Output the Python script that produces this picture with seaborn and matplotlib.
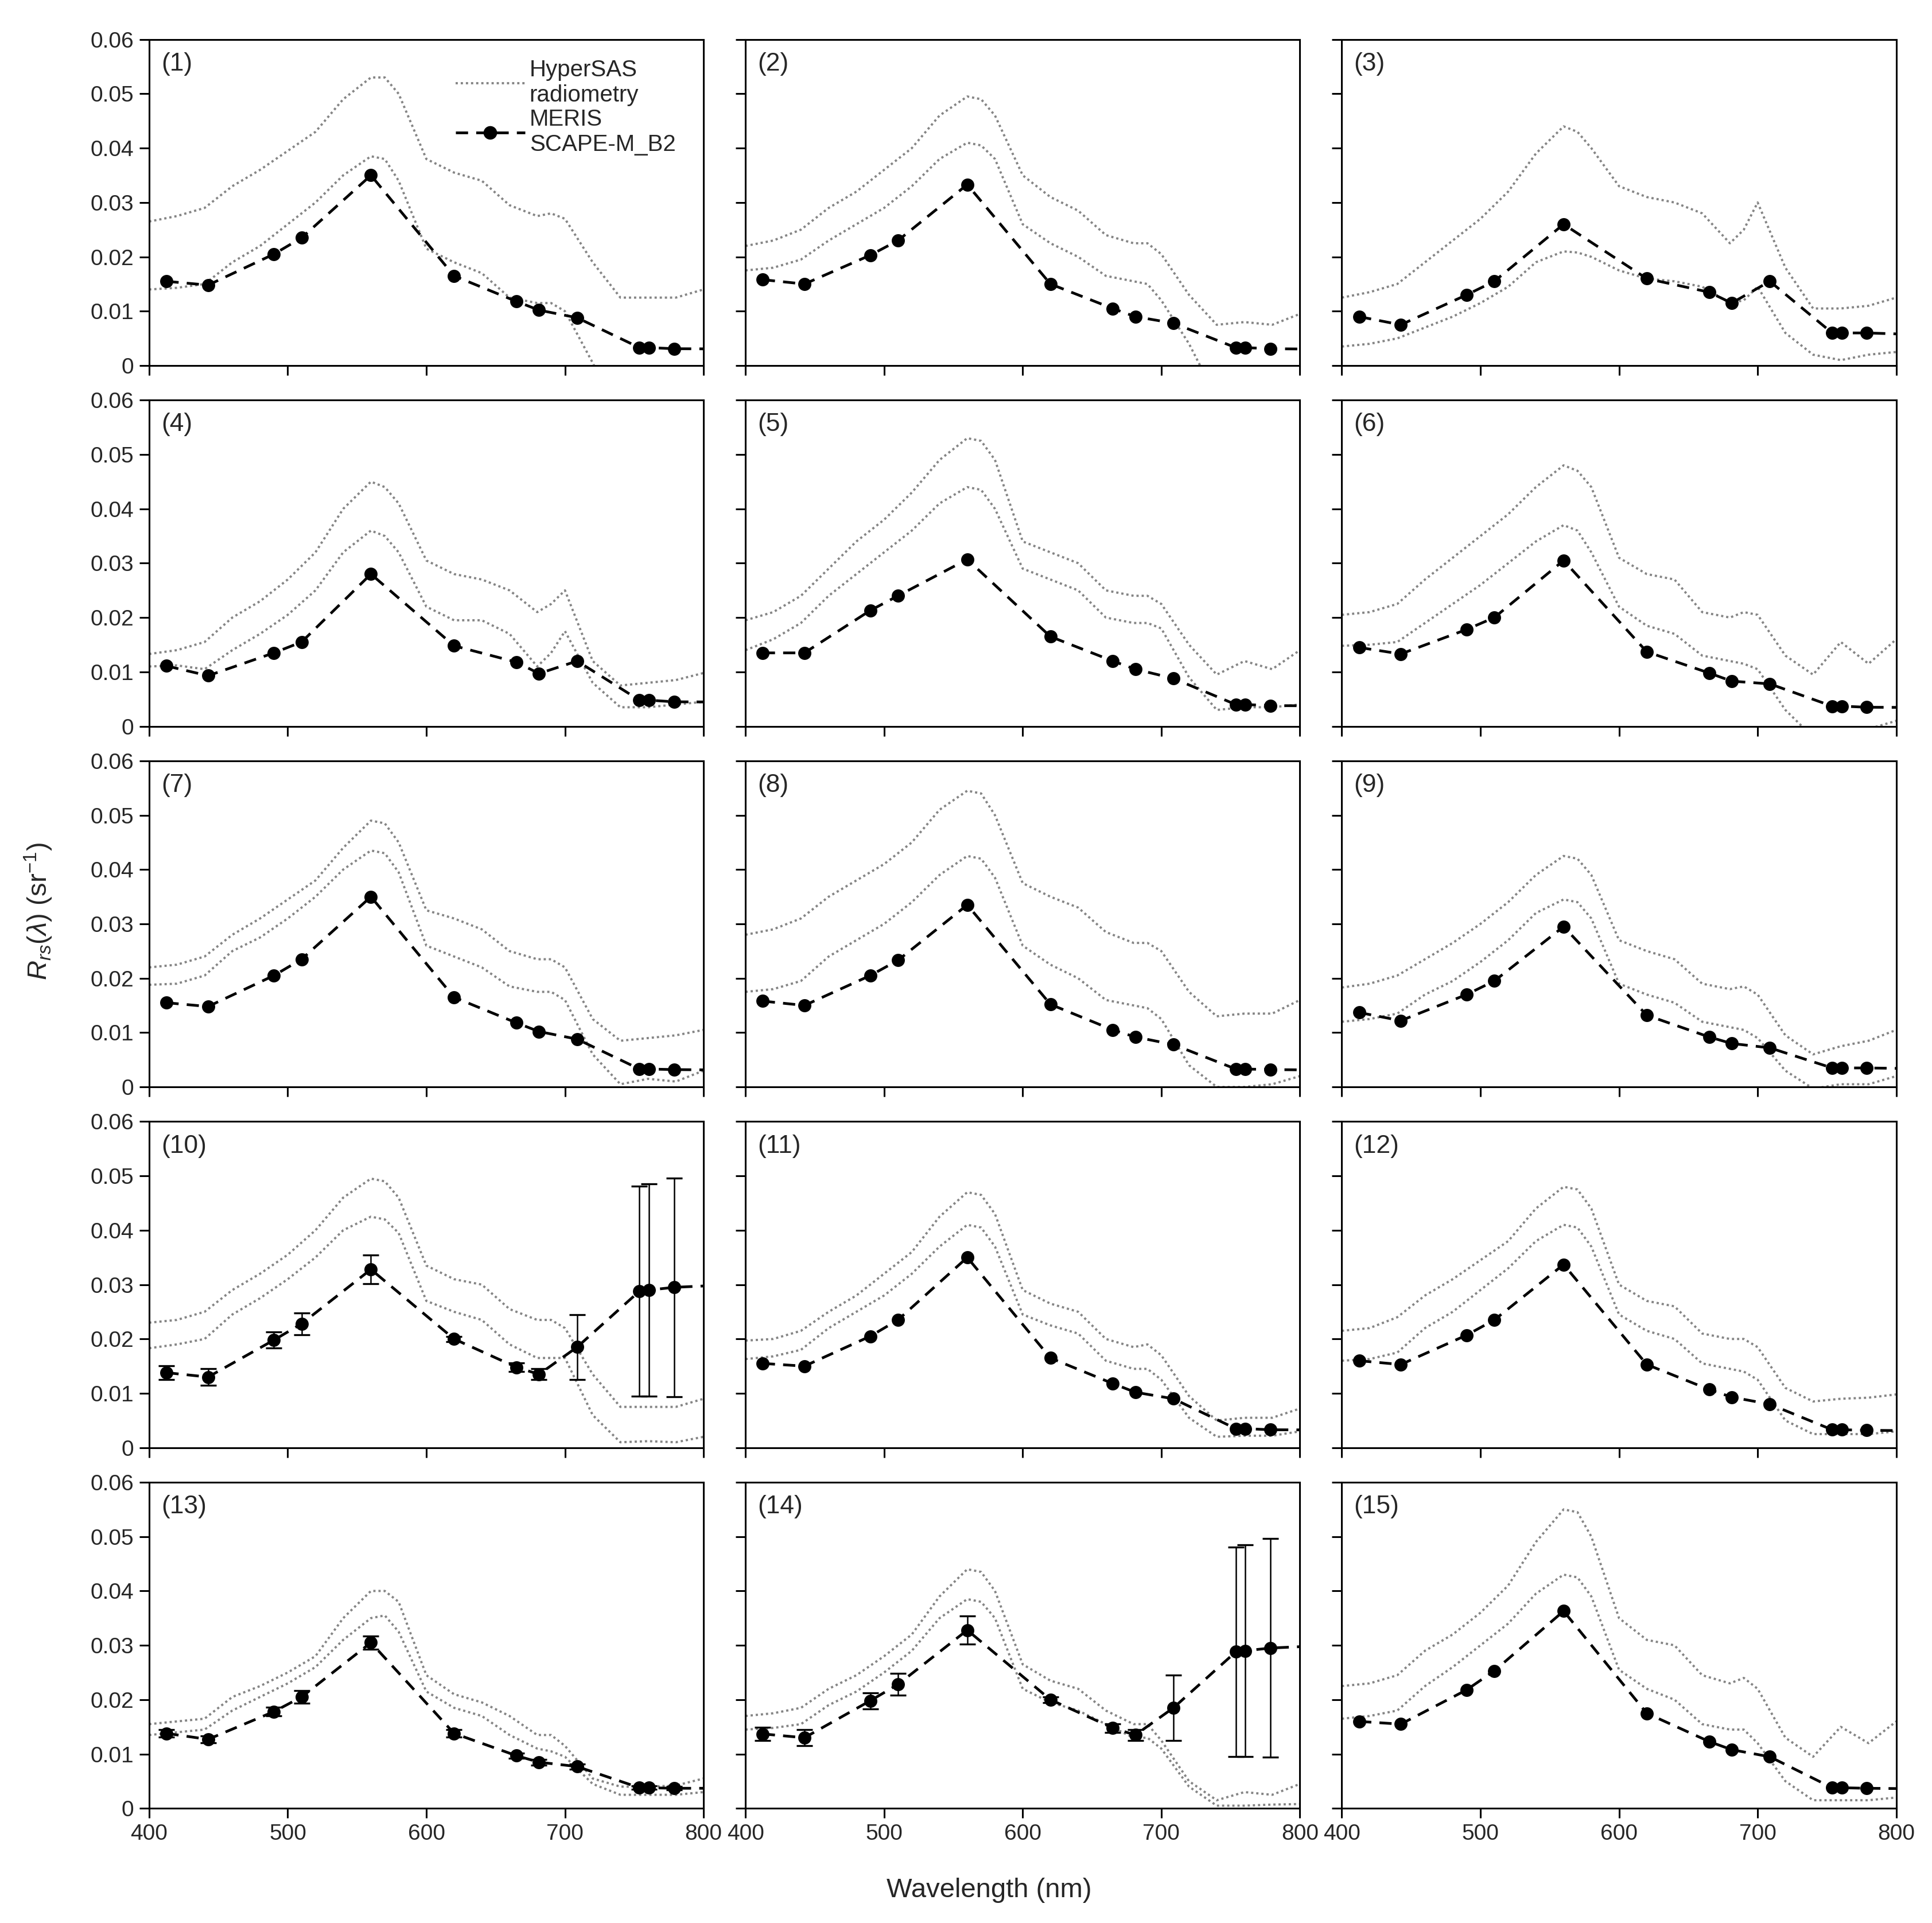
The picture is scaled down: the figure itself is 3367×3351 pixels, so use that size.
import numpy as np
import pandas as pd
import matplotlib
matplotlib.use("Agg")
import matplotlib.pyplot as plt
from matplotlib.lines import Line2D
from matplotlib.ticker import FuncFormatter
import seaborn as sns

# MERIS band centres (nm); last band (865) lies beyond the plotted range
wl_meris = [412.5, 442.5, 490, 510, 560, 620, 665, 681.25, 708.75, 753.75, 760.625, 778.75, 865]

# HyperSAS sampling grid (nm)
wl_hs = [400, 420, 440, 460, 480, 500, 520, 540, 560, 570, 580, 600, 620,
         640, 660, 680, 690, 700, 720, 740, 760, 780, 800]

panel_labels = ["(%d)" % i for i in range(1, 16)]

# MERIS SCAPE-M_B2 Rrs per panel
meris_rrs = [
    [.0155, .0148, .0205, .0235, .0350, .0165, .0118, .0102, .0088, .0033, .0033, .0031, .0030],
    [.0158, .0150, .0203, .0230, .0333, .0150, .0105, .0090, .0078, .0033, .0033, .0031, .0029],
    [.0090, .0075, .0130, .0155, .0260, .0160, .0135, .0115, .0155, .0060, .0060, .0060, .0053],
    [.0111, .0093, .0135, .0155, .0280, .0148, .0118, .0097, .0120, .0048, .0048, .0045, .0044],
    [.0135, .0135, .0213, .0240, .0307, .0165, .0120, .0105, .0088, .0040, .0040, .0038, .0037],
    [.0145, .0133, .0178, .0200, .0305, .0137, .0098, .0083, .0078, .0037, .0037, .0035, .0034],
    [.0155, .0148, .0205, .0235, .0350, .0165, .0118, .0102, .0088, .0033, .0033, .0032, .0030],
    [.0158, .0150, .0205, .0233, .0335, .0152, .0105, .0092, .0078, .0033, .0033, .0032, .0030],
    [.0137, .0122, .0170, .0195, .0295, .0132, .0092, .0080, .0072, .0035, .0035, .0035, .0032],
    [.0138, .0130, .0198, .0228, .0328, .0200, .0148, .0135, .0185, .0288, .0290, .0295, .0305],
    [.0155, .0150, .0205, .0235, .0350, .0165, .0118, .0102, .0090, .0035, .0035, .0033, .0032],
    [.0160, .0153, .0207, .0235, .0337, .0153, .0107, .0093, .0080, .0033, .0033, .0032, .0030],
    [.0138, .0127, .0178, .0205, .0305, .0138, .0097, .0085, .0077, .0038, .0038, .0037, .0037],
    [.0137, .0130, .0198, .0228, .0328, .0200, .0148, .0135, .0185, .0288, .0290, .0295, .0305],
    [.0160, .0155, .0218, .0253, .0363, .0175, .0123, .0108, .0095, .0038, .0038, .0037, .0035],
]

# error bars (only panels with visible bars)
meris_err = {
    10: [.0013, .0015, .0015, .0020, .0026, .0005, .0008, .0010, .0060, .0193, .0195, .0201, 0],
    13: [.0007, .0006, .0008, .0012, .0012, .0007, .0005, .0005, .0005, .0003, .0003, .0003, 0],
    14: [.0012, .0015, .0015, .0020, .0026, .0005, .0008, .0010, .0060, .0193, .0195, .0201, 0],
}

# HyperSAS radiometry, upper and lower curves per panel
hs_upper = [
    [.0265, .0275, .029, .033, .036, .0395, .043, .049, .053, .053, .050, .038, .0355, .034, .0295, .0275, .028, .027, .019, .0125, .0125, .0125, .014],
    [.022, .023, .025, .029, .032, .036, .040, .046, .0495, .049, .046, .035, .031, .0285, .024, .0225, .0225, .0205, .013, .0075, .008, .0075, .0095],
    [.0125, .0135, .015, .019, .023, .027, .032, .039, .044, .043, .040, .033, .031, .030, .028, .0225, .025, .030, .018, .0105, .0105, .011, .0125],
    [.0133, .014, .0155, .020, .023, .027, .032, .040, .045, .044, .041, .0305, .028, .027, .025, .021, .0225, .025, .012, .0075, .008, .0085, .0098],
    [.0195, .021, .024, .029, .034, .038, .043, .049, .053, .0525, .049, .034, .032, .030, .025, .024, .024, .0225, .015, .0095, .012, .0105, .014],
    [.0205, .021, .0225, .027, .031, .035, .039, .044, .048, .047, .044, .031, .028, .027, .021, .020, .021, .0205, .013, .0095, .0155, .0115, .016],
    [.022, .0225, .024, .028, .031, .0345, .038, .044, .049, .0485, .045, .0325, .031, .029, .025, .0235, .0235, .022, .0125, .0085, .009, .0095, .0105],
    [.028, .029, .031, .035, .038, .041, .045, .051, .0545, .054, .050, .0375, .035, .033, .0285, .0265, .0265, .025, .0175, .013, .0135, .0135, .016],
    [.0183, .019, .0205, .0235, .0265, .030, .034, .039, .0425, .042, .039, .027, .025, .0235, .019, .018, .0185, .017, .0095, .006, .0075, .0085, .0105],
    [.023, .0235, .025, .029, .032, .0355, .040, .046, .0495, .049, .046, .0335, .031, .030, .0255, .0235, .0235, .022, .0135, .0075, .0075, .0075, .009],
    [.0197, .020, .0215, .025, .028, .032, .036, .0425, .047, .0465, .043, .029, .0265, .025, .020, .0185, .019, .017, .0095, .005, .0055, .0055, .0072],
    [.0215, .022, .024, .028, .031, .0345, .038, .044, .048, .0475, .044, .030, .027, .026, .021, .020, .020, .0185, .011, .0085, .009, .0092, .0098],
    [.0155, .016, .0165, .0205, .0225, .025, .028, .035, .040, .040, .038, .0245, .021, .0195, .017, .0135, .0135, .0115, .0055, .004, .004, .0042, .0055],
    [.017, .0175, .0185, .022, .0245, .028, .032, .039, .044, .0435, .040, .0265, .0235, .022, .018, .0155, .0155, .0125, .005, .0015, .003, .0025, .0045],
    [.0225, .023, .0245, .029, .032, .036, .041, .049, .055, .0545, .050, .035, .031, .030, .0245, .023, .024, .022, .013, .0095, .015, .012, .016],
]

hs_lower = [
    [.014, .0143, .015, .019, .022, .026, .030, .035, .0385, .038, .034, .0215, .019, .017, .0125, .0115, .0115, .010, .0005, -.010, -.020, -.020, -.020],
    [.0175, .018, .0195, .023, .026, .029, .033, .038, .041, .0405, .038, .026, .0225, .020, .0165, .0155, .015, .012, .004, -.006, -.015, -.015, -.015],
    [.0035, .004, .005, .007, .009, .0115, .0145, .019, .021, .0208, .020, .0175, .016, .0155, .0145, .0115, .012, .0145, .006, .002, .001, .002, .0025],
    [.011, .0112, .0105, .014, .017, .0205, .025, .032, .036, .035, .032, .022, .0195, .0195, .017, .011, .0135, .0175, .008, .0035, .0035, .004, .0045],
    [.014, .016, .019, .024, .028, .032, .036, .041, .044, .0435, .040, .029, .027, .025, .020, .019, .019, .018, .009, .003, .0035, .0035, .004],
    [.0148, .015, .0155, .019, .0225, .026, .030, .034, .037, .036, .032, .022, .0185, .017, .013, .012, .0115, .0105, .003, -.002, -.001, -.0005, .001],
    [.0188, .019, .0205, .025, .0275, .031, .035, .040, .0435, .043, .0395, .026, .024, .022, .0185, .0175, .0175, .016, .006, .0005, .0015, .001, .003],
    [.0175, .018, .0195, .024, .027, .030, .034, .039, .0425, .042, .0385, .026, .0225, .020, .016, .015, .0145, .0125, .004, .000, .000, .0005, .002],
    [.012, .0125, .0135, .017, .0195, .023, .027, .032, .0345, .034, .031, .019, .017, .0155, .012, .011, .0105, .009, .003, -.0003, .0005, .0005, .002],
    [.0183, .019, .020, .0245, .0275, .031, .035, .040, .0425, .042, .0395, .027, .025, .0235, .019, .0165, .0165, .0165, .006, .001, .0012, .001, .002],
    [.0163, .0168, .018, .022, .025, .028, .032, .037, .041, .0405, .037, .0245, .0225, .021, .016, .0145, .0145, .0125, .0055, .002, .0022, .0022, .003],
    [.016, .0163, .0175, .022, .025, .029, .033, .038, .041, .0405, .037, .0245, .0215, .020, .0155, .0145, .014, .0125, .005, .0025, .0025, .0025, .003],
    [.0135, .014, .0145, .018, .0205, .023, .026, .031, .035, .0355, .0325, .0215, .0185, .017, .0135, .011, .0105, .0095, .0045, .0025, .0025, .0025, .003],
    [.0145, .0148, .0155, .019, .0215, .025, .029, .035, .0385, .038, .035, .022, .0195, .018, .0155, .013, .013, .011, .004, .0005, .0005, .0007, .0008],
    [.0165, .017, .018, .0225, .026, .030, .034, .0395, .043, .0425, .039, .0255, .022, .020, .0155, .0145, .0145, .012, .005, .0015, .0015, .0015, .002],
]

sns.set_theme(style="ticks")
plt.rcParams['font.family'] = ['Liberation Sans', 'DejaVu Sans']
plt.rcParams['mathtext.fontset'] = 'custom'
plt.rcParams['mathtext.rm'] = 'Liberation Sans'
plt.rcParams['mathtext.it'] = 'Liberation Sans:italic'

hs_color = '#858585'
hs_style = (0, (1, 1.3))
meris_style = (0, (4.5, 3))
tick_fs = 14

fig, axes = plt.subplots(5, 3, figsize=(16.835, 16.755), dpi=200)
fig.subplots_adjust(left=0.0772, right=0.9815, top=0.9795, bottom=0.0596,
                    wspace=0.0756, hspace=0.106)

for i, ax in enumerate(axes.flat):
    hs_df = pd.DataFrame({
        'wl': wl_hs * 2,
        'rrs': hs_upper[i] + hs_lower[i],
        'curve': ['upper'] * len(wl_hs) + ['lower'] * len(wl_hs),
    })
    sns.lineplot(data=hs_df, x='wl', y='rrs', units='curve', estimator=None,
                 color=hs_color, linestyle=hs_style, linewidth=1.4,
                 legend=False, ax=ax, sort=False)

    err = meris_err.get(i + 1)
    if err is not None:
        ax.errorbar(wl_meris, meris_rrs[i], yerr=err, fmt='none', ecolor='black',
                    elinewidth=0.9, capsize=5, capthick=1.2, zorder=3)
    sns.lineplot(x=wl_meris, y=meris_rrs[i], color='black', linestyle=meris_style,
                 linewidth=1.7, marker='o', markersize=7.5, markeredgecolor='black',
                 ax=ax, sort=False, zorder=4)

    ax.set_xlim(400, 800)
    ax.set_ylim(0, 0.06)
    ax.set_xticks([400, 500, 600, 700, 800])
    ax.set_yticks([0, 0.01, 0.02, 0.03, 0.04, 0.05, 0.06])
    ax.yaxis.set_major_formatter(FuncFormatter(lambda v, p: '0' if abs(v) < 1e-9 else f'{v:.2f}'))
    ax.tick_params(direction='out', length=6, width=1.1, labelsize=tick_fs, color='black')
    for sp in ax.spines.values():
        sp.set_linewidth(1.1)
        sp.set_color('black')
    ax.set_xlabel('')
    ax.set_ylabel('')
    row, col = divmod(i, 3)
    if col != 0:
        ax.tick_params(labelleft=False)
    if row != 4:
        ax.tick_params(labelbottom=False)
    ax.text(0.022, 0.925, panel_labels[i], transform=ax.transAxes,
            ha='left', va='center', fontsize=16)

legend_handles = [
    Line2D([], [], color=hs_color, linestyle=hs_style, linewidth=1.4),
    Line2D([], [], color='black', linestyle=meris_style, linewidth=1.7,
           marker='o', markersize=7.5),
]
axes[0, 0].legend(legend_handles, ['HyperSAS\nradiometry', 'MERIS\nSCAPE-M_B2'],
                  loc='upper right', bbox_to_anchor=(0.985, 1.0), frameon=False,
                  fontsize=14.5, handlelength=3.0, handletextpad=0.2,
                  labelspacing=0.1, borderpad=0.35)

fig.text(0.512, 0.017, 'Wavelength (nm)', ha='center', va='center', fontsize=17)
fig.text(0.02, 0.526, r'$R_{rs}$($\lambda$) (sr$^{-1}$)', ha='center', va='center',
         rotation=90, fontsize=17)

fig.savefig('out.png', dpi=200, facecolor='white')
